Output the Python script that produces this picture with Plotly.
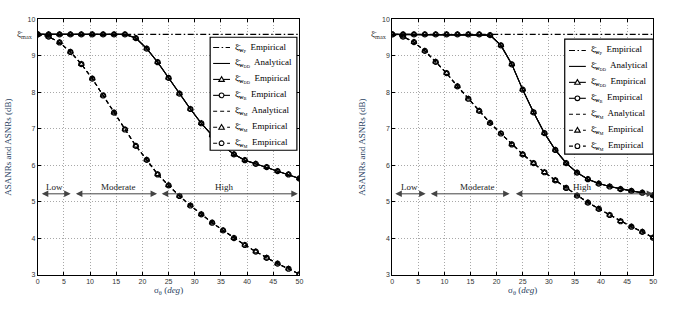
import plotly.graph_objects as go

# ---------------- data ----------------
sigma = [0, 2.08, 4.17, 6.25, 8.33, 10.42, 12.5, 14.58, 16.67, 18.75, 20.83, 22.92, 25,
         27.08, 29.17, 31.25, 33.33, 35.42, 37.5, 39.58, 41.67, 43.75, 45.83, 47.92, 50]
XI_MAX = 9.58

# left panel
left_wP = [XI_MAX] * len(sigma)
left_wDD = [9.58, 9.58, 9.58, 9.58, 9.58, 9.58, 9.58, 9.58, 9.58, 9.48, 9.19, 8.82, 8.39,
            7.96, 7.54, 7.15, 6.82, 6.53, 6.30, 6.14, 6.04, 5.95, 5.84, 5.75, 5.64]
left_wM = [9.58, 9.52, 9.36, 9.10, 8.77, 8.37, 7.91, 7.44, 6.98, 6.53, 6.15, 5.75, 5.45,
           5.16, 4.90, 4.66, 4.43, 4.22, 4.01, 3.82, 3.64, 3.47, 3.31, 3.17, 3.02]

# right panel
right_wP = [XI_MAX] * len(sigma)
right_wDD = [9.58, 9.58, 9.58, 9.58, 9.58, 9.58, 9.58, 9.58, 9.58, 9.56, 9.28, 8.76, 8.07,
             7.45, 6.88, 6.42, 6.06, 5.80, 5.62, 5.50, 5.42, 5.35, 5.30, 5.25, 5.18]
right_wM = [9.58, 9.52, 9.37, 9.13, 8.83, 8.52, 8.16, 7.82, 7.49, 7.16, 6.87, 6.57, 6.30,
            6.06, 5.81, 5.59, 5.38, 5.17, 4.98, 4.81, 4.64, 4.47, 4.32, 4.18, 4.02]

region_names = ["Low", "Moderate", "High"]
left_regions = [(0.5, 6.3), (7.0, 22.8), (23.4, 49.7)]
right_regions = [(0.3, 6.4), (7.1, 22.5), (23.4, 50.0)]
left_label_x = [3.2, 15.3, 35.7]
right_label_x = [3.3, 16.3, 36.5]
REGION_Y = 5.22
REGION_LABEL_Y = 5.40

xticks = [0, 5, 10, 15, 20, 25, 30, 35, 40, 45, 50]
yticks = [3, 4, 5, 6, 7, 8, 9, 10]

legend_names = [
    "ξ̄<sub><b>w</b><sub>P</sub></sub>  Empirical",
    "ξ̄<sub><b>w</b><sub>DD</sub></sub>  Analytical",
    "ξ̄<sub><b>w</b><sub>DD</sub></sub>  Empirical",
    "ξ̄<sub><b>w</b><sub>B</sub></sub>  Empirical",
    "ξ̄<sub><b>w</b><sub>M</sub></sub>  Analytical",
    "ξ̄<sub><b>w</b><sub>M</sub></sub>  Empirical",
    "ξ̄<sub><b>w</b><sub>M</sub></sub>  Empirical",
]

# ---------------- styles ----------------
W, H = 685, 321
SERIF = "Liberation Serif"
SANS = "Liberation Sans"
LW = 1.1
DASH = "4px,3px"
DASHDOT = "6px,2.5px,1.5px,2.5px"
# per series: (dash, marker)
series_style = [
    (DASHDOT, None),
    ("solid", None),
    ("solid", "triangle"),
    ("solid", "circle"),
    (DASH, None),
    (DASH, "triangle"),
    (DASH, "circle"),
]
plotly_symbol = {"triangle": "triangle-up-open", "circle": "circle-open"}

fig = go.Figure()


def add_panel(xa, ya, wP, wDD, wM):
    values = [wP, wDD, wDD, wDD, wM, wM, wM]
    for name, vals, (dash, mk) in zip(legend_names, values, series_style):
        kw = dict(x=sigma, y=vals, name=name, xaxis=xa, yaxis=ya, showlegend=False,
                  line=dict(color="black", width=LW, dash=dash))
        if mk:
            kw["mode"] = "lines+markers"
            kw["marker"] = dict(symbol=plotly_symbol[mk], size=5, color="black",
                                line=dict(width=1.2))
        else:
            kw["mode"] = "lines"
        fig.add_trace(go.Scatter(**kw))


add_panel("x", "y", left_wP, left_wDD, left_wM)
add_panel("x2", "y2", right_wP, right_wDD, right_wM)

axis_common = dict(
    showline=True, linecolor="black", linewidth=1, mirror="allticks",
    ticks="inside", ticklen=3, tickcolor="black",
    showgrid=True, gridcolor="#a8a8a8", griddash="1px,2px", gridwidth=1,
    tickfont=dict(family=SANS, size=7, color="#333333"),
    zeroline=False,
)

ydom = [0.137, 0.952]
xtitle = dict(text="σ<sub>θ</sub> (<i>deg</i>)", font=dict(family=SERIF, size=9), standoff=2)
ytitle = dict(text="ASANRs and ASNRs (dB)", font=dict(family=SERIF, size=9), standoff=14)
fig.update_layout(
    width=W, height=H,
    margin=dict(l=0, r=0, t=0, b=0),
    paper_bgcolor="white", plot_bgcolor="white",
    showlegend=False,
    xaxis=dict(domain=[0.0526, 0.438], range=[0, 50], tickvals=xticks, anchor="y",
               title=xtitle, **axis_common),
    yaxis=dict(domain=ydom, range=[3, 10], tickvals=yticks, anchor="x",
               title=ytitle, **axis_common),
    xaxis2=dict(domain=[0.5747, 0.959], range=[0, 50], tickvals=xticks, anchor="y2",
                title=xtitle, **axis_common),
    yaxis2=dict(domain=ydom, range=[3, 10], tickvals=yticks, anchor="x2",
                title=ytitle, **axis_common),
)

annotations = []
shapes = []
for xr, yr, regions, labx in [("x", "y", left_regions, left_label_x),
                              ("x2", "y2", right_regions, right_label_x)]:
    annotations.append(dict(x=0, y=XI_MAX, xref=xr, yref=yr,
                            text="ξ̄<sub>max</sub>", showarrow=False, xanchor="right",
                            xshift=-3, font=dict(family=SERIF, size=9, color="#333333")))
    for (a, b), name, lx in zip(regions, region_names, labx):
        annotations.append(dict(x=b, y=REGION_Y, ax=a, ay=REGION_Y, xref=xr, yref=yr,
                                axref=xr, ayref=yr, text="", showarrow=True,
                                arrowhead=2, arrowside="end+start", arrowsize=1.3,
                                arrowwidth=1, arrowcolor="#444444"))
        annotations.append(dict(x=lx, y=REGION_LABEL_Y, xref=xr, yref=yr, text=name,
                                showarrow=False, font=dict(family=SERIF, size=9, color="#222222")))


# ---------------- compact legend boxes (layout only, pixel based) ----------------
def px(x):
    return x / W


def py(y):
    return 1 - y / H


def draw_legend(box, row0, drow, sym_x0, sym_x1, text_x):
    bx0, by0, bx1, by1 = box
    shapes.append(dict(type="rect", xref="paper", yref="paper",
                       x0=px(bx0), x1=px(bx1), y0=py(by1), y1=py(by0),
                       fillcolor="white", line=dict(color="black", width=1.2), layer="above"))
    for i, (name, (dash, mk)) in enumerate(zip(legend_names, series_style)):
        yy = row0 + i * drow
        shapes.append(dict(type="line", xref="paper", yref="paper",
                           x0=px(sym_x0), x1=px(sym_x1), y0=py(yy), y1=py(yy),
                           line=dict(color="black", width=LW, dash=dash), layer="above"))
        xm = (sym_x0 + sym_x1) / 2
        r = 2.4
        if mk == "circle":
            shapes.append(dict(type="circle", xref="paper", yref="paper",
                               x0=px(xm - r), x1=px(xm + r), y0=py(yy + r), y1=py(yy - r),
                               fillcolor="white", line=dict(color="black", width=1.1),
                               layer="above"))
        elif mk == "triangle":
            path = "M {:.5f},{:.5f} L {:.5f},{:.5f} L {:.5f},{:.5f} Z".format(
                px(xm), py(yy - r - 0.4), px(xm - r - 0.4), py(yy + r - 0.4),
                px(xm + r + 0.4), py(yy + r - 0.4))
            shapes.append(dict(type="path", xref="paper", yref="paper", path=path,
                               fillcolor="white", line=dict(color="black", width=1.1),
                               layer="above"))
        annotations.append(dict(x=px(text_x), y=py(yy), xref="paper", yref="paper",
                                text=name, showarrow=False, xanchor="left", yanchor="middle",
                                font=dict(family=SERIF, size=9, color="black")))


draw_legend((210, 34, 297.5, 149.5), 44.5, 16.3, 213, 230, 233)
draw_legend((567.7, 36, 657, 153.5), 47.5, 16.3, 572, 589, 592)

fig.update_layout(annotations=annotations, shapes=shapes)

fig.write_html("out.html")
